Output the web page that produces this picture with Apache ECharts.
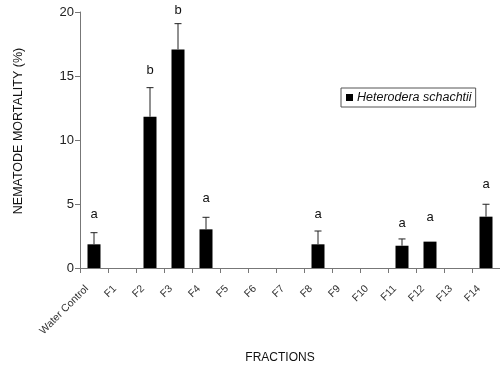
<!DOCTYPE html>
<html><head><meta charset="utf-8">
<script src="https://cdn.jsdelivr.net/npm/echarts@6/dist/echarts.min.js"></script>
<style>html,body{margin:0;padding:0;background:#fff}#c{width:500px;height:373px}</style>
</head><body><div id="c"></div>
<script>
const categories = ['Water Control','F1','F2','F3','F4','F5','F6','F7','F8','F9','F10','F11','F12','F13','F14'];
const mortality = [1.85, 0, 11.82, 17.08, 3.02, 0, 0, 0, 1.85, 0, 0, 1.74, 2.06, 0, 4.01];
const errorUp = [0.91, null, 2.27, 2.01, 0.94, null, null, null, 1.04, null, null, 0.53, null, null, 0.97];
const letters = ['a', '', 'b', 'b', 'a', '', '', '', 'a', '', '', 'a', 'a', '', 'a'];
const letterY = [4.15, null, 15.46, 20.1, 5.46, null, null, null, 4.15, null, null, 3.5, 3.95, null, 6.5];
const yTicks = [0, 5, 10, 15, 20];

const chart = echarts.init(document.getElementById('c'), null, {renderer: 'canvas'});
const errData = categories.map((c, i) => errorUp[i] == null ? [i, null, null] : [i, mortality[i], mortality[i] + errorUp[i]]);
const letterData = categories.map((c, i) => letterY[i] == null ? [i, null, ''] : [i, letterY[i], letters[i]]);

chart.setOption({
  animation: false,
  textStyle: {fontFamily: 'Liberation Sans, Arial, sans-serif'},
  grid: {left: 80, right: 0, top: 12, bottom: 105},
  legend: {
    show: true, data: [{name: 'Heterodera schachtii', icon: 'rect'}],
    left: 341, top: 88, padding: [3, 4, 3, 5],
    borderColor: '#555', borderWidth: 1, borderRadius: 0,
    itemWidth: 7, itemHeight: 7, itemGap: 4,
    textStyle: {fontSize: 12.5, fontStyle: 'italic', color: '#111', padding: [0, 0, 0, -1]}
  },
  xAxis: {
    type: 'category', data: categories,
    name: 'FRACTIONS', nameLocation: 'middle', nameGap: 84,
    nameTextStyle: {fontSize: 12, color: '#111', padding: [0, 20, 0, 0]},
    axisLine: {lineStyle: {color: '#777', width: 1}},
    axisTick: {show: true, length: 5, lineStyle: {color: '#777'}},
    axisLabel: {rotate: 45, fontSize: 10.5, color: '#333', margin: 12, padding: [0, 10, 0, 0], interval: 0}
  },
  yAxis: {
    type: 'value', min: 0, max: 20, interval: 5,
    name: 'NEMATODE MORTALITY (%)', nameLocation: 'middle', nameGap: 55,
    nameTextStyle: {fontSize: 12.5, color: '#111', padding: [0, 0, 0, 18]},
    axisLine: {show: true, lineStyle: {color: '#777', width: 1}},
    axisTick: {show: true, length: 5, lineStyle: {color: '#777'}},
    splitLine: {show: false},
    axisLabel: {fontSize: 13, color: '#222', margin: 6, formatter: v => yTicks.includes(v) ? String(v) : ''}
  },
  series: [
    {
      name: 'Heterodera schachtii', type: 'bar', data: mortality, barWidth: 13,
      itemStyle: {color: '#000'}
    },
    {
      type: 'custom', data: errData, z: 3, clip: false,
      renderItem: function (params, api) {
        const lo = api.value(1), hi = api.value(2);
        if (lo == null || isNaN(lo) || hi == null || isNaN(hi)) return;
        const p0 = api.coord([api.value(0), lo]);
        const p1 = api.coord([api.value(0), hi]);
        const style = {stroke: '#222', lineWidth: 1};
        return {type: 'group', children: [
          {type: 'line', shape: {x1: p0[0], y1: p0[1], x2: p1[0], y2: p1[1]}, style: style},
          {type: 'line', shape: {x1: p1[0] - 3.5, y1: p1[1], x2: p1[0] + 3.5, y2: p1[1]}, style: style}
        ]};
      }
    },
    {
      type: 'custom', data: letterData, z: 4, clip: false,
      renderItem: function (params, api) {
        const y = api.value(1);
        if (y == null || isNaN(y)) return;
        const p = api.coord([api.value(0), y]);
        return {type: 'text', x: p[0], y: p[1], style: {
          text: letters[params.dataIndex], fill: '#111', fontSize: 13,
          fontFamily: 'Liberation Sans, Arial, sans-serif', align: 'center', verticalAlign: 'middle'}};
      }
    }
  ]
});
</script></body></html>
